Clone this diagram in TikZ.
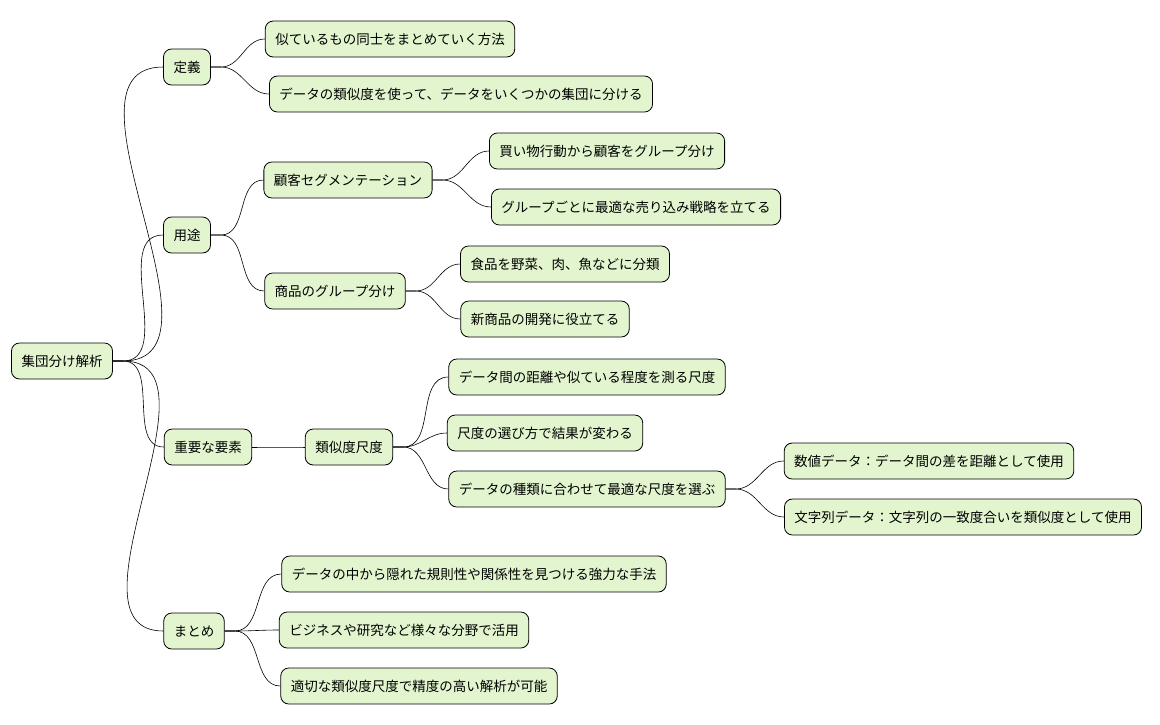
\documentclass[tikz,border=0pt]{standalone}
\usepackage{fontspec}
\setmainfont{Noto Sans CJK JP}
\usetikzlibrary{positioning}
\definecolor{mmfill}{HTML}{E2F5CF}

\begin{document}
\begin{tikzpicture}[x=1pt, y=-1pt,
  box/.style={draw=black, fill=mmfill, rounded corners=8pt, minimum height=36pt,
    inner xsep=10pt, font=\fontsize{13.5}{16}\selectfont, line width=0.8pt},
  link/.style={draw=black, line width=0.6pt}
]
  \useasboundingbox (0,0) rectangle (1160,724);

  % root and first level
  \node[box] (root) at (62,361) {集団分け解析};
  \node[box] (def) at (187,67) {定義};
  \node[box] (use) at (187,235) {用途};
  \node[box] (key) at (208,447) {重要な要素};
  \node[box] (sum) at (194,631) {まとめ};

  % definition
  \node[box] (def1) at (390,39) {似ているもの同士をまとめていく方法};
  \node[box] (def2) at (461,94) {データの類似度を使って、データをいくつかの集団に分ける};

  % usage
  \node[box] (seg) at (348,180) {顧客セグメンテーション};
  \node[box] (seg1) at (607,151) {買い物行動から顧客をグループ分け};
  \node[box] (seg2) at (636,207) {グループごとに最適な売り込み戦略を立てる};
  \node[box] (prd) at (335,291) {商品のグループ分け};
  \node[box] (prd1) at (565,264) {食品を野菜、肉、魚などに分類};
  \node[box] (prd2) at (545,319) {新商品の開発に役立てる};

  % key element
  \node[box] (sim) at (349,447) {類似度尺度};
  \node[box] (sim1) at (587,377) {データ間の距離や似ている程度を測る尺度};
  \node[box] (sim2) at (545,433) {尺度の選び方で結果が変わる};
  \node[box] (sim3) at (587,489) {データの種類に合わせて最適な尺度を選ぶ};
  \node[box] (num) at (929,461) {数値データ：データ間の差を距離として使用};
  \node[box] (str) at (963,517) {文字列データ：文字列の一致度合いを類似度として使用};

  % summary
  \node[box] (sum1) at (474,574) {データの中から隠れた規則性や関係性を見つける強力な手法};
  \node[box] (sum2) at (404,630) {ビジネスや研究など様々な分野で活用};
  \node[box] (sum3) at (419,686) {適切な類似度尺度で精度の高い解析が可能};

  % connectors
  \foreach \a/\b in {root/def, root/use, root/key, root/sum,
    def/def1, def/def2, use/seg, use/prd, seg/seg1, seg/seg2,
    prd/prd1, prd/prd2, key/sim, sim/sim1, sim/sim2, sim/sim3,
    sim3/num, sim3/str, sum/sum1, sum/sum2, sum/sum3}
    \draw[link] (\a.east) -- ++(10,0) to[out=0,in=180] (\b.west);
\end{tikzpicture}
\end{document}
